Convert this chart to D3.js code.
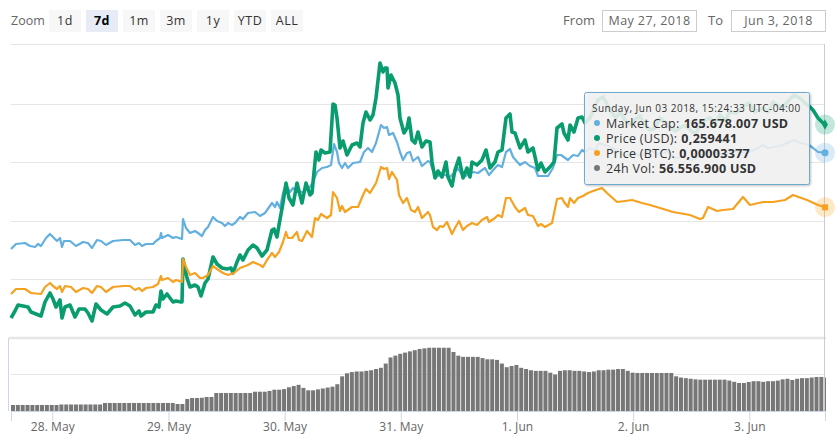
<!DOCTYPE html>
<html>
<head>
<meta charset="utf-8">
<title>Price chart</title>
<script src="https://cdn.jsdelivr.net/npm/d3@7/dist/d3.min.js"></script>
<style>
  html, body { margin: 0; padding: 0; background: #fff; }
  svg { display: block; font-family: "Open Sans", sans-serif; }
  .axis text { font-size: 12px; fill: #666; letter-spacing: 0.1px; }
  .axis path, .axis line { stroke: #ccd6eb; }
</style>
</head>
<body>
<div id="chart"></div>
<script>
// Readings are taken at irregular samples, about 12.4 minutes per sample step.
var startTime = Date.UTC(2018, 4, 27, 15, 28);
var endTime = Date.UTC(2018, 5, 3, 15, 38);
var lastSample = 814;

var capSample = [0,5,14,19,24,27,30,35,39,42,46,49,51,53,59,65,72,77,81,86,90,95,102,112,119,124,128,131,135,142,145,149,150,151,157,162,165,171,172,175,179,184,187,191,194,197,202,206,211,214,217,221,224,229,232,237,244,249,254,261,264,266,269,272,275,279,282,286,292,299,302,306,311,316,320,323,326,328,331,334,337,342,349,353,357,361,365,370,373,376,378,382,386,389,392,396,399,402,407,411,417,419,421,425,429,434,439,444,447,452,457,462,467,474,478,484,487,491,495,499,502,509,514,519,524,527,532,537,542,546,550,557,562,567,571,574,579,584,588,597,605,614,622,630,638,647,657,664,672,681,689,697,705,714,722,730,738,745,752,757,762,769,776,783,790,798,802,807,814];
var marketCap = [117.5,120,120.5,119,118.5,120,119,123,125,123.5,121.5,123,118.5,121.5,121.5,119,121,120.5,118,122,121.5,119.5,121.5,122,122,119.5,120.5,119,120,120,121.5,123,125.5,123,124.5,123,123.5,122.5,132.5,128,125.5,126.5,125.5,124,127,128.5,133.5,131.5,130.5,129,130.5,129.5,130.5,133.5,132.5,135.5,136,134,135.5,140.5,138.5,141,138,145.5,149.5,146,148,146,146,148.5,151,156,158,158.5,159.5,170,166,160.5,158,160.5,158,160.5,161,166,168,166,170.5,179.5,178,178.5,174.5,175.5,171,166,162,165.5,166,161.5,163.5,159,161.5,161,158,153.5,154.5,154.5,153.5,156,158,153.5,154.5,156,155.5,158,154.5,158,159.5,158.5,166,167.5,163.5,159.5,161,159,158,154,154,154,158,164.5,164.5,162,164.5,164,167,166,168,167,170.5,169,167,164,165.5,164,167,165,166,163,163.5,162,164,166,165.5,164.5,167,165.5,166,167.5,169.5,168,168.5,169,170.5,172,170.5,169.5,168,166,165.678];

var usdSample = [0,4,7,12,17,20,25,30,34,39,42,45,49,51,54,59,64,68,74,77,81,85,90,96,102,109,114,119,124,128,130,135,142,145,148,150,152,156,162,165,170,171,172,176,179,184,187,190,194,197,202,206,211,216,220,222,226,229,232,237,242,246,251,256,261,263,266,268,272,275,278,282,286,291,295,299,301,305,308,310,314,319,322,324,326,329,332,336,341,346,349,352,355,359,362,365,369,372,374,376,377,380,384,387,389,393,396,398,401,404,407,411,415,419,421,424,427,431,435,437,441,444,448,452,456,459,461,466,471,475,479,484,487,491,495,499,501,504,509,514,517,522,527,530,534,539,543,546,551,553,557,559,563,567,571,574,579,583,587,592,596,601,605,609,614,619,624,629,634,639,644,649,654,659,664,669,674,679,684,689,694,699,704,709,714,719,725,731,738,744,752,757,762,767,772,778,783,789,794,799,802,807,811,814];
var priceUsd = [.066,.073,.079,.078,.077,.072,.070,.068,.082,.091,.085,.077,.084,.066,.077,.079,.067,.075,.075,.071,.063,.080,.074,.070,.077,.078,.081,.078,.069,.073,.068,.072,.072,.079,.077,.093,.085,.090,.082,.083,.082,.082,.125,.106,.097,.099,.097,.088,.101,.105,.127,.120,.116,.115,.116,.111,.122,.129,.124,.134,.139,.136,.128,.134,.154,.155,.147,.159,.181,.201,.186,.179,.201,.181,.201,.189,.191,.232,.224,.234,.231,.232,.280,.279,.266,.236,.243,.229,.239,.241,.237,.261,.272,.264,.269,.286,.321,.312,.316,.316,.296,.309,.301,.289,.266,.251,.256,.266,.244,.241,.252,.237,.243,.242,.222,.206,.213,.207,.222,.207,.198,.214,.226,.206,.216,.207,.222,.219,.224,.234,.216,.222,.232,.234,.266,.270,.252,.251,.236,.244,.232,.236,.214,.221,.212,.217,.222,.256,.260,.251,.244,.259,.252,.266,.267,.261,.266,.276,.284,.287,.280,.271,.266,.272,.264,.260,.264,.268,.259,.254,.256,.266,.262,.257,.253,.256,.259,.254,.250,.258,.264,.266,.260,.269,.264,.272,.271,.276,.281,.272,.276,.272,.282,.278,.277,.284,.289,.286,.281,.277,.274,.266,.262,.259441];

var btcSample = [0,5,14,20,30,34,39,42,46,49,51,54,60,65,72,77,81,86,90,95,102,112,119,124,128,131,135,142,147,150,151,157,162,165,171,172,175,179,184,189,192,197,202,206,212,217,223,229,237,242,249,252,256,261,264,268,272,275,277,281,286,288,291,296,301,304,307,310,316,320,322,326,329,331,334,341,347,352,355,359,365,370,373,376,378,381,386,388,392,396,400,404,407,411,417,419,422,426,429,432,436,441,444,448,452,456,461,466,471,476,478,484,487,491,495,499,504,508,514,517,522,527,530,534,541,546,551,553,557,559,563,567,572,577,582,591,596,606,614,621,631,639,649,662,679,689,692,697,706,712,722,732,739,752,762,774,782,796,807,814];
// BTC price in satoshi
var priceBtc = [2510,2560,2560,2520,2510,2580,2620,2590,2560,2590,2530,2590,2580,2530,2570,2560,2520,2590,2580,2530,2580,2590,2590,2550,2570,2540,2570,2580,2610,2690,2650,2670,2630,2650,2630,2860,2780,2700,2720,2670,2670,2700,2790,2760,2720,2700,2720,2770,2800,2830,2800,2780,2850,2920,2880,2930,3030,3130,3070,3070,3130,3050,3040,3140,3080,3270,3250,3310,3270,3300,3530,3470,3340,3390,3330,3380,3380,3500,3560,3520,3620,3780,3760,3770,3660,3730,3650,3500,3420,3470,3350,3330,3380,3270,3330,3300,3180,3150,3190,3180,3230,3110,3170,3240,3150,3190,3220,3200,3250,3280,3230,3270,3300,3280,3470,3470,3380,3330,3370,3300,3290,3190,3210,3180,3220,3460,3470,3430,3380,3470,3420,3470,3490,3520,3540,3570,3520,3430,3440,3450,3420,3400,3370,3330,3300,3260,3270,3380,3340,3350,3360,3480,3400,3430,3430,3450,3500,3450,3400,3377];

// 24h volume in million USD, one bar per hour
var volume = [9.9,9.9,9.9,9.9,9.9,9.9,9.9,9.9,9.9,9.9,10.7,10.7,10.7,10.7,10.7,10.7,10.7,10.7,10.7,13.2,13.2,13.2,13.2,13.2,13.2,13.2,13.2,13.2,13.2,13.2,13.2,13.2,13.2,13.2,11.5,11.5,19.7,21.4,21.4,21.8,23,23,29.6,29.6,29.6,29.6,29.6,29.6,29.6,29.6,31.7,31.7,31.7,33,35,35,36,39,41,43,38,34,34,35.5,37,38.5,40,44,57,62,64,65,65,66,67,69,71,78,88,91,94,96,98,100,102,103,104,104,104,104,104,97,91,89,89,89,89,87,85,85,84,78,72,74,75.6,71,69,67,66,66,66,63,60,66,67,67,66,66,65,64,65,67,67,68,68,69,69,66,63,62.5,62.5,62.5,62.5,62.5,62.5,62.5,62.5,57,55,54,53,52,51.5,51.5,51.5,51.5,51.5,51.5,50,48,46,46,47.7,49,49,48,49,49,50,52,53,51,53,54,54,55,56,56,55];

var usdGrid = [0.340, 0.280, 0.222, 0.163, 0.105];
var volumeGrid = [60];
var rangeButtons = ["1d", "7d", "1m", "3m", "1y", "YTD", "ALL"];
var selectedButton = "7d";
var fromDate = "May 27, 2018";
var toDate = "Jun 3, 2018";
var tooltipTitle = "Sunday, Jun 03 2018, 15:24:33 UTC-04:00";
var tooltipLabels = ["Market Cap:", "Price (USD):", "Price (BTC):", "24h Vol:"];
var tooltipValues = ["165.678.007 USD", "0,259441", "0,00003377", "56.556.900 USD"];

var blue = "#62afe0", green = "#099c6e", orange = "#f6a220", grey = "#777";
var tooltipColors = [blue, green, orange, grey];

var width = 836, height = 436;
var left = 11, right = 825;
var priceTop = 44, priceBottom = 330;
var volTop = 338, volBottom = 411;

var svg = d3.select("#chart").append("svg").attr("width", width).attr("height", height);

var sampleMs = (endTime - startTime) / lastSample;
var x = d3.scaleUtc().domain([startTime, endTime]).range([left, right]);
var xSample = function (k) { return x(startTime + k * sampleMs); };

// every series has its own hidden y axis
var yCap = d3.scaleLinear().domain([220, 77]).range([priceTop, priceBottom]);
var yUsd = d3.scaleLinear().domain([0.340, 0.054]).range([priceTop, priceBottom]);
var yBtc = d3.scaleLinear().domain([5010, 2150]).range([priceTop, priceBottom]);
var yVol = d3.scaleLinear().domain([0, 120]).range([volBottom, volTop]);

// range selector
svg.append("text").attr("x", 11).attr("y", 25).attr("font-size", 12.5).attr("fill", "#666").text("Zoom");
var buttonX = d3.scaleBand().domain(rangeButtons).range([49, 303]).paddingInner(0.135).paddingOuter(0);
var button = svg.selectAll("g.range").data(rangeButtons).join("g").attr("class", "range");
button.append("rect")
  .attr("x", function (d) { return buttonX(d); })
  .attr("y", 10).attr("width", 32).attr("height", 22)
  .attr("fill", function (d) { return d === selectedButton ? "#e6ebf5" : "#f7f7f7"; });
button.append("text")
  .attr("x", function (d) { return buttonX(d) + 16; })
  .attr("y", 25).attr("text-anchor", "middle").attr("font-size", 12.5)
  .attr("letter-spacing", 0.5)
  .attr("font-weight", function (d) { return d === selectedButton ? "bold" : "normal"; })
  .attr("fill", function (d) { return d === selectedButton ? "#000" : "#333"; })
  .text(function (d) { return d; });

// date inputs
function dateInput(label, labelEnd, boxX, value) {
  svg.append("text").attr("x", labelEnd).attr("y", 25).attr("text-anchor", "end")
    .attr("font-size", 13).attr("fill", "#666").text(label);
  svg.append("rect").attr("x", boxX + 0.5).attr("y", 10.5).attr("width", 94).attr("height", 21)
    .attr("fill", "#fff").attr("stroke", "#ccc");
  svg.append("text").attr("x", boxX + 47.5).attr("y", 25).attr("text-anchor", "middle")
    .attr("font-size", 12.5).attr("letter-spacing", 0.4).attr("fill", "#666").text(value);
}
dateInput("From", 595, 602, fromDate);
dateInput("To", 723, 731, toDate);

// grid
svg.selectAll("line.grid").data(usdGrid).join("line").attr("class", "grid")
  .attr("x1", left).attr("x2", right)
  .attr("y1", function (d) { return Math.round(yUsd(d)) + 0.5; })
  .attr("y2", function (d) { return Math.round(yUsd(d)) + 0.5; })
  .attr("stroke", "#e6e6e6");
svg.append("line").attr("x1", 9).attr("x2", 826).attr("y1", volTop).attr("y2", volTop)
  .attr("stroke", "#e6e6e6").attr("stroke-width", 2.5);
svg.selectAll("line.volgrid").data(volumeGrid).join("line").attr("class", "volgrid")
  .attr("x1", left).attr("x2", right)
  .attr("y1", function (d) { return yVol(d); })
  .attr("y2", function (d) { return yVol(d); })
  .attr("stroke", "#e6e6e6");
svg.append("line").attr("x1", 8.5).attr("x2", 8.5).attr("y1", volTop).attr("y2", volBottom)
  .attr("stroke", "#ccd6eb");

// volume bars
svg.selectAll("rect.vol").data(volume).join("rect").attr("class", "vol")
  .attr("x", function (d, i) { return x(startTime + i * 3600000); })
  .attr("y", function (d) { return yVol(d); })
  .attr("width", function (d, i) { return Math.min(4, right + 1 - x(startTime + i * 3600000)); })
  .attr("height", function (d) { return volBottom - yVol(d); })
  .attr("fill", grey);

// x axis
var days = d3.utcDay.range(Date.UTC(2018, 4, 28), Date.UTC(2018, 5, 4));
var axis = svg.append("g").attr("class", "axis")
  .attr("transform", "translate(0," + volBottom + ")")
  .call(d3.axisBottom(x).tickValues(days).tickSize(10).tickPadding(1).tickFormat(d3.utcFormat("%-d. %b")));
axis.selectAll("text").attr("font-family", "Open Sans");

// crosshair
svg.append("line").attr("x1", right - 0.5).attr("x2", right - 0.5).attr("y1", priceTop).attr("y2", volBottom)
  .attr("stroke", "#ccc");

// lines
function drawLine(samples, values, y, color, w) {
  var line = d3.line()
    .x(function (d, i) { return xSample(samples[i]); })
    .y(function (d) { return y(d); });
  svg.append("path").datum(values).attr("d", line)
    .attr("fill", "none").attr("stroke", color).attr("stroke-width", w)
    .attr("stroke-linejoin", "round");
}
drawLine(capSample, marketCap, yCap, blue, 2.2);
drawLine(usdSample, priceUsd, yUsd, green, 3.6);
drawLine(btcSample, priceBtc, yBtc, orange, 2.2);

// hover markers on the last point
var endX = xSample(lastSample);
function halo(cy, color) {
  svg.append("circle").attr("cx", endX).attr("cy", cy).attr("r", 10).attr("fill", color).attr("opacity", 0.25);
}
var capEnd = yCap(marketCap[marketCap.length - 1]);
var usdEnd = yUsd(priceUsd[priceUsd.length - 1]);
var btcEnd = yBtc(priceBtc[priceBtc.length - 1]);
halo(capEnd, blue);
halo(usdEnd, green);
halo(btcEnd, orange);
svg.append("circle").attr("cx", endX).attr("cy", capEnd).attr("r", 3.5).attr("fill", blue);
svg.append("path").attr("transform", "translate(" + endX + "," + usdEnd + ")")
  .attr("d", d3.symbol(d3.symbolDiamond, 30)()).attr("fill", green);
svg.append("rect").attr("x", endX - 3).attr("y", btcEnd - 3).attr("width", 6).attr("height", 6).attr("fill", orange);

// tooltip
var tip = svg.append("g").attr("transform", "translate(584.5,92.5)");
tip.append("rect").attr("width", 225).attr("height", 92).attr("rx", 2)
  .attr("fill", "rgba(247,247,247,0.87)").attr("stroke", "#6ea9d0")
  .style("filter", "drop-shadow(1px 1px 1px rgba(0,0,0,0.25))");
tip.append("text").attr("x", 7.5).attr("y", 19.5).attr("font-size", 10).attr("letter-spacing", 0.5)
  .attr("fill", "#333").text(tooltipTitle);
var rowY = d3.scaleLinear().domain([0, 3]).range([35, 80]);
tooltipLabels.forEach(function (label, i) {
  tip.append("circle").attr("cx", 12.5).attr("cy", rowY(i) - 4.5).attr("r", 3).attr("fill", tooltipColors[i]);
  var t = tip.append("text").attr("x", 21.5).attr("y", rowY(i)).attr("font-size", 12.5)
    .attr("letter-spacing", 0.3).attr("fill", "#333");
  t.append("tspan").text(label);
  t.append("tspan").attr("dx", 4).attr("font-weight", "bold").text(tooltipValues[i]);
});
</script>
</body>
</html>
